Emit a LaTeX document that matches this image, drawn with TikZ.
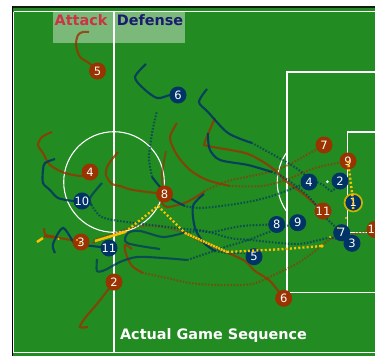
\documentclass[tikz,border=0pt]{standalone}
\usepackage{fontspec}
\setmainfont{DejaVu Sans}
\usetikzlibrary{backgrounds}
\definecolor{pitchgreen}{HTML}{228B22}
\definecolor{attackred}{HTML}{993300}
\definecolor{defenseblue}{HTML}{003366}
\definecolor{ballgold}{HTML}{FFC000}
\definecolor{ringgold}{HTML}{C8B400}
\definecolor{attacktext}{HTML}{CC3344}
\definecolor{defensetext}{HTML}{1A1A6E}
\tikzset{
    attack/.style={circle,fill=attackred,minimum size=17pt,inner sep=0pt,text=white,font=\fontsize{11.5}{13}\selectfont},
    defense/.style={attack,fill=defenseblue},
    pitchline/.style={draw=white,line width=1.1pt},
    headline/.style={font=\fontsize{14.4}{16}\bfseries\selectfont},
    redline/.style={draw=attackred,line width=2.1pt,opacity=.8},
    reddots/.style={redline,opacity=.65,dash pattern=on 1.6pt off 1.6pt},
    blueline/.style={draw=defenseblue,line width=2.1pt,opacity=.85},
    bluedots/.style={blueline,opacity=.65,dash pattern=on 1.6pt off 1.6pt},
    balldots/.style={draw=ballgold,line width=2.4pt,dash pattern=on 2pt off 2.2pt},
    ballline/.style={draw=ballgold,line width=2.4pt}
}
\begin{document}
\begin{tikzpicture}[x=1pt,y=-1pt]
    \useasboundingbox (0,0) rectangle (375,356);
    % attacking side
    \node [attack] (a2) at (114,282) {2};
    \node [attack] (a3) at (81,242) {3};
    \node [attack] (a4) at (90,172) {4};
    \node [attack] (a5) at (97.5,71) {5};
    \node [attack] (a6) at (283.7,298.3) {6};
    \node [attack] (a7) at (324,145) {7};
    \node [attack] (a8) at (164.5,194) {8};
    \node [attack] (a9) at (348,161) {9};
    \node [attack] (a10) at (375,229.5) {10};
    \node [attack] (a11) at (323,211) {11};
    % defending side
    \node [defense] (d1) at (353.3,202.7) {1};
    \node [defense] (d3) at (352,243.3) {3};
    \node [defense] (d2) at (340,181) {2};
    \node [defense] (d4) at (309,182) {4};
    \node [defense] (d5) at (254,256.7) {5};
    \node [defense] (d6) at (178,95) {6};
    \node [defense] (d7) at (341.7,232.7) {7};
    \node [defense] (d8) at (276.7,224.5) {8};
    \node [defense] (d9) at (297.7,222.7) {9};
    \node [defense] (d10) at (82,201) {10};
    \node [defense] (d11) at (109,248) {11};
    \draw [ringgold,line width=1.7pt] (d1) circle (8.8);
    \begin{pgfonlayer}{background}
        \fill [white] (0,0) rectangle (375,356);
        \fill [pitchgreen] (12,6.5) rectangle (375,356);
        \fill [black!75!pitchgreen] (12,6) rectangle (375,7.6);
        \fill [black] (11.6,6) rectangle (12.8,356);
        \draw [pitchline] (13.5,11.5) -- (376,11.5);
        \draw [pitchline] (13.5,11.5) -- (13.5,352.7) -- (376,352.7);
        \draw [pitchline] (376,72) -- (287,72) -- (287,292.3) -- (376,292.3);
        \draw [pitchline] (376,132) -- (347.5,132) -- (347.5,232.7) -- (376,232.7);
        \draw [pitchline] (114,11.5) -- (114,352.7);
        \draw [pitchline] (114,182) circle (50.3);
        \draw [pitchline] (287,152) .. controls (274,170) and (274,194) .. (287,212);
        \fill [white] (327.3,181.7) circle (1.5);
        \fill [white,opacity=.4] (53,12) rectangle (185,42.5);
        % attacking runs
        \draw [redline] plot [smooth] coordinates {(a5.center) (89,63) (80,57) (76,45) (78,35) (83,32) (89,32)};
        \draw [redline] plot [smooth] coordinates {(a4.center) (82,176) (65,173) (50,165) (43,153) (38,145) (42,137) (52,132)};
        \draw [redline] plot [smooth] coordinates {(a8.center) (133,190) (120,186) (112,184) (106,175) (108,165) (118,152)};
        \draw [redline,opacity=.6] plot [smooth] coordinates {(a8.center) (162,175) (166,151)};
        \draw [redline] plot [smooth] coordinates {(a3.center) (60,238) (46,235) (44,228)};
        \draw [redline,line width=3pt] (44,236) -- (54,237);
        \draw [redline] plot [smooth] coordinates {(a2.center) (97,304) (85,318) (80,327) (88,327)};
        \draw [reddots] plot [smooth] coordinates {(a9.center) (315,168) (288,179) (262,186) (230,186)};
        \draw [redline] plot [smooth] coordinates {(230,186) (207,180) (190,170) (177,155) (170,138) (177,123)};
        \draw [reddots] plot [smooth] coordinates {(a7.center) (288,165) (265,173) (228,181) (205,191)};
        \draw [redline] plot [smooth] coordinates {(205,191) (187,202) (167,207) (161,201)};
        \draw [redline] plot [smooth] coordinates {(a11.center) (302,193) (287,182) (278,173) (265,163) (245,153) (208,146) (205,142) (215,118)};
        \draw [redline] plot [smooth] coordinates {(a6.center) (270,281) (255,271) (245,261) (228,253)};
        \draw [reddots] plot [smooth] coordinates {(228,253) (203,243) (185,233) (163,227) (140,226) (127,229) (110,235) (94,240) (94,244)};
        \draw [reddots] plot [smooth] coordinates {(a10.center) (348,235) (332,238) (315,251) (298,263) (278,273) (252,284) (218,285) (190,283) (167,278) (143,273)};
        \draw [redline] plot [smooth] coordinates {(143,273) (132,266) (126,254) (125,245) (132,249)};
        % defending runs
        \draw [blueline] plot [smooth] coordinates {(d6.center) (170,95) (157,98) (143,88) (135,77) (146,64)};
        \draw [blueline] plot [smooth] coordinates {(d10.center) (73,201) (58,198) (50,190) (43,183) (43,170) (45,163) (55,159)};
        \draw [blueline] plot [smooth] coordinates {(d11.center) (83,245) (75,244) (63,228) (53,244) (55,253)};
        \draw [bluedots] plot [smooth] coordinates {(d4.center) (272,196) (242,203) (202,208) (185,206)};
        \draw [blueline] plot [smooth] coordinates {(185,206) (170,198) (160,187) (152,177)};
        \draw [bluedots] plot [smooth] coordinates {(152,177) (149,160) (150,147) (153,128) (157,111)};
        \draw [bluedots] plot [smooth] coordinates {(d2.center) (332,191) (323,185) (309,178) (293,166) (252,143)};
        \draw [blueline] plot [smooth] coordinates {(252,143) (228,133) (208,112) (199,102) (207,89)};
        \draw [bluedots] plot [smooth] coordinates {(d7.center) (323,215) (310,198) (288,180) (272,172)};
        \draw [blueline] plot [smooth] coordinates {(272,172) (248,165) (220,160) (210,150) (208,138) (208,133)};
        \draw [bluedots] plot [smooth] coordinates {(d3.center) (330,238) (298,244) (250,240) (230,238) (205,231) (185,229) (143,224) (113,220) (100,216) (92,206)};
        \draw [blueline,opacity=.7] plot [smooth] coordinates {(92,206) (90,198) (102,183)};
        \draw [bluedots] plot [smooth] coordinates {(d5.center) (245,253) (228,253) (215,251)};
        \draw [blueline] plot [smooth] coordinates {(215,251) (204,243) (195,228) (193,206) (204,194)};
        \draw [bluedots] plot [smooth] coordinates {(d8.center) (242,226) (212,232) (200,231) (183,233)};
        \draw [blueline,opacity=.7] plot [smooth] coordinates {(183,233) (163,237) (140,231) (128,233) (127,243) (160,249)};
        \draw [bluedots] plot [smooth] coordinates {(d9.center) (277,229) (248,240) (222,248) (208,253) (187,260)};
        \draw [blueline,opacity=.7] plot [smooth] coordinates {(187,260) (163,258) (137,257) (120,262) (105,270) (97,271) (97,259)};
    \end{pgfonlayer}
    % ball
    \draw [ballline] (37,242) -- (43,238);
    \fill [ballgold] (58.5,239) circle (1.2) (77,240) circle (1.2) (80,243) circle (1.2);
    \draw [ballline] (95,241) -- (125,232);
    \draw [balldots] (a9.center) -- (d1.center) -- (353,210);
    \draw [balldots] (125,232) -- (158,206) -- (185,233);
    \draw [ballline,dash pattern=on 2pt off .8pt] (185,233) -- (227,252);
    \draw [balldots] (227,252) -- (285,249) -- (322,246);
    \fill [ballgold] (322,246) circle (1.9) (330,237) circle (1.2) (338,228) circle (1.2) (346,218) circle (1.2);
    \node [headline,text=attacktext] (attacklabel) at (81,20) {Attack};
    \node [headline,text=defensetext] (defenselabel) at (150,20) {Defense};
    \node [headline,text=white] (titlelabel) at (213.5,336) {Actual Game Sequence};
\end{tikzpicture}
\end{document}
